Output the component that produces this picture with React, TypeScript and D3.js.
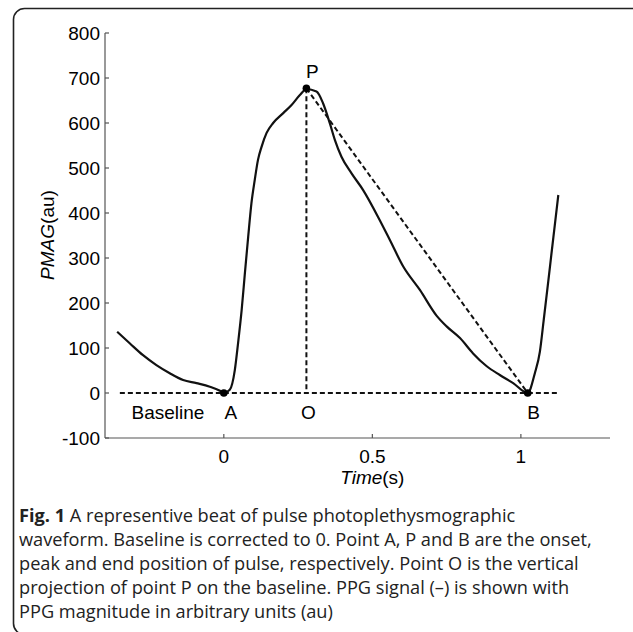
import React from "react";
import * as d3 from "d3";

const timeS = [-0.359, -0.316, -0.272, -0.227, -0.182, -0.137, -0.092, -0.047, -0.013, 0,
  0.02, 0.037, 0.048, 0.06, 0.071, 0.082, 0.093, 0.104, 0.115, 0.127, 0.144, 0.166, 0.2, 0.228, 0.256, 0.278,
  0.312, 0.334, 0.357, 0.374, 0.396, 0.43, 0.469, 0.525, 0.559, 0.604, 0.66, 0.716, 0.75, 0.795, 0.839, 0.884, 0.929, 0.974, 1.023,
  1.047, 1.064, 1.077, 1.092, 1.103, 1.114, 1.126];
const pmag = [136, 110, 84, 62, 44, 29, 22, 14, 5, 0,
  7, 51, 111, 184, 267, 347, 422, 473, 518, 547, 578, 600, 622, 640, 662, 675,
  670, 644, 599, 562, 525, 488, 451, 384, 340, 281, 229, 172, 148, 122, 88, 60, 40, 22, 0,
  44, 92, 163, 247, 310, 372, 440];

const keyNames = ["A", "P", "B"];
const keyT = [0, 0.278, 1.023];
const keyV = [0, 677, 0];
const baselineRange = [-0.35, 1.13];

const xTicks = [0, 0.5, 1];
const xTickLabels = ["0", "0.5", "1"];
const yTicks = [-100, 0, 100, 200, 300, 400, 500, 600, 700, 800];

const captionLines = [
  "A representive beat of pulse photoplethysmographic",
  "waveform. Baseline is corrected to 0. Point A, P and B are the onset,",
  "peak and end position of pulse, respectively. Point O is the vertical",
  "projection of point P on the baseline. PPG signal (–) is shown with",
  "PPG magnitude in arbitrary units (au)",
];

export default function App() {
  const W = 633, H = 632;
  const x = d3.scaleLinear().domain([-0.4, 1.3]).range([105, 610]);
  const y = d3.scaleLinear().domain([-100, 800]).range([438, 33]);
  const pts: [number, number][] = timeS.map((t, i) => [t, pmag[i]]);
  const line = d3.line<[number, number]>().x(d => x(d[0])).y(d => y(d[1])).curve(d3.curveMonotoneX);
  const font = "'Liberation Sans', Arial, sans-serif";
  const fs = 19;
  const P = { t: keyT[1], v: keyV[1] };
  const B = { t: keyT[2], v: keyV[2] };
  return (
    <svg width={W} height={H} style={{ position: "absolute", left: 0, top: 0, background: "#fff" }}>
      <rect x={13.5} y={8.5} width={640} height={626} rx={11} fill="none" stroke="#222" strokeWidth={1.6} />
      {/* axes */}
      <line x1={x(-0.4)} x2={x(-0.4)} y1={y(800)} y2={y(-100)} stroke="#555" strokeWidth={1.2} />
      <line x1={x(-0.4)} x2={x(1.3)} y1={y(-100)} y2={y(-100)} stroke="#555" strokeWidth={1.2} />
      {yTicks.map(v => (
        <g key={v}>
          <line x1={x(-0.4)} x2={x(-0.4) + 4} y1={y(v)} y2={y(v)} stroke="#555" strokeWidth={1.2} />
          <text x={x(-0.4) - 5} y={y(v) + 6.5} textAnchor="end" fontFamily={font} fontSize={fs} fill="#000">{v}</text>
        </g>
      ))}
      {xTicks.map((t, i) => (
        <g key={t}>
          <line x1={x(t)} x2={x(t)} y1={y(-100)} y2={y(-100) - 4} stroke="#555" strokeWidth={1.2} />
          <text x={x(t)} y={463} textAnchor="middle" fontFamily={font} fontSize={fs} fill="#000">{xTickLabels[i]}</text>
        </g>
      ))}
      <text x={x(0.5)} y={484} textAnchor="middle" fontFamily={font} fontSize={fs} fill="#000">
        <tspan fontStyle="italic">Time</tspan>(s)
      </text>
      <text transform={`translate(54,235) rotate(-90)`} textAnchor="middle" fontFamily={font} fontSize={fs} fill="#000">
        <tspan fontStyle="italic">PMAG</tspan>(au)
      </text>
      {/* dashed guides */}
      <line x1={x(baselineRange[0])} x2={x(baselineRange[1])} y1={y(0)} y2={y(0)} stroke="#111" strokeWidth={2} strokeDasharray="5,3" />
      <line x1={x(P.t)} x2={x(P.t)} y1={y(P.v)} y2={y(0)} stroke="#111" strokeWidth={2} strokeDasharray="5,3" />
      <line x1={x(P.t)} x2={x(B.t)} y1={y(P.v)} y2={y(B.v)} stroke="#111" strokeWidth={2} strokeDasharray="5,3" />
      {/* signal */}
      <path d={line(pts) || ""} fill="none" stroke="#111" strokeWidth={2.2} strokeLinejoin="round" />
      {keyT.map((t, i) => (
        <circle key={keyNames[i]} cx={x(t)} cy={y(keyV[i])} r={3.8} fill="#000" />
      ))}
      {/* point labels */}
      <text x={168} y={419} textAnchor="middle" fontFamily={font} fontSize={fs} fill="#000">Baseline</text>
      <text x={x(keyT[0]) + 7} y={419} textAnchor="middle" fontFamily={font} fontSize={fs} fill="#000">A</text>
      <text x={x(P.t) + 2} y={419} textAnchor="middle" fontFamily={font} fontSize={fs} fill="#000">O</text>
      <text x={x(B.t) + 6} y={419} textAnchor="middle" fontFamily={font} fontSize={fs} fill="#000">B</text>
      <text x={x(P.t) + 6} y={78} textAnchor="middle" fontFamily={font} fontSize={fs} fill="#000">P</text>
      {/* caption */}
      {captionLines.map((s, i) => (
        <text key={i} x={19} y={522 + i * 24} fontFamily="'Open Sans', sans-serif" fontSize={18.2} fill="#222">
          {i === 0 ? <tspan fontWeight="bold">Fig. 1 </tspan> : null}
          {s}
        </text>
      ))}
    </svg>
  );
}
